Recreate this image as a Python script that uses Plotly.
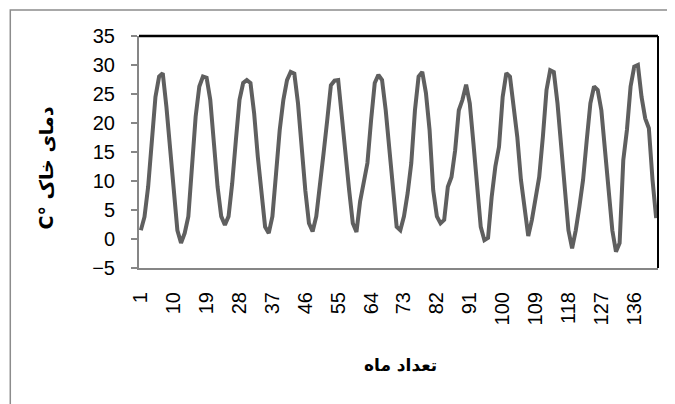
import plotly.graph_objects as go

# monthly soil temperature (deg C)
months = list(range(1, 143))
soil_temp = [
    1.5, 3.8, 9.0, 17.0, 24.5, 28.0, 28.6, 22.8, 15.9, 7.3, 1.5, -0.7,
    1.0, 3.9, 13.1, 21.1, 26.3, 28.0, 27.8, 24.0, 16.5, 9.0, 3.9, 2.4,
    3.9, 9.6, 17.0, 24.0, 26.9, 27.4, 26.9, 21.7, 14.2, 7.3, 2.1, 1.0,
    3.9, 11.3, 18.8, 24.0, 27.4, 28.8, 28.5, 23.4, 15.3, 8.4, 2.7, 1.3,
    3.9, 10.2, 14.8, 20.5, 26.5, 27.3, 27.4, 21.1, 14.2, 8.4, 2.7, 1.2,
    6.5, 10.2, 13.1, 20.5, 26.9, 28.3, 27.4, 22.2, 15.3, 7.3, 2.1, 1.5,
    3.9, 7.9, 13.1, 22.2, 28.0, 28.8, 25.2, 18.8, 8.4, 3.9, 2.7, 3.3,
    9.0, 10.7, 15.3, 22.2, 24.0, 26.6, 23.4, 16.5, 9.0, 2.1, -0.2, 0.2,
    7.3, 12.5, 15.9, 24.5, 28.6, 28.0, 22.8, 17.6, 10.2, 5.6, 0.5, 3.3,
    7.3, 10.7, 17.6, 25.7, 29.1, 28.8, 23.4, 15.9, 7.3, 1.5, -1.6, 1.5,
    5.6, 10.2, 17.0, 23.4, 26.3, 25.7, 22.2, 14.8, 7.3, 1.5, -2.2, -0.7,
    13.6, 18.8, 26.3, 29.7, 30.0, 24.5, 20.8, 19.1, 10.2, 3.6,
]
x_ticks = list(range(1, 137, 9))
y_ticks = list(range(-5, 36, 5))

y_title = "\u202bدمای خاک °C\u202c"
x_title = "تعداد ماه"

fig = go.Figure()
fig.add_trace(
    go.Scatter(
        x=months,
        y=soil_temp,
        mode="lines",
        line=dict(color="#5f5f5f", width=4),
        showlegend=False,
    )
)

# plot area: top and right border in black, axes in gray
fig.add_shape(type="line", xref="paper", yref="paper", x0=0, x1=1, y0=1, y1=1,
              line=dict(color="black", width=2.5))
fig.add_shape(type="line", xref="paper", yref="paper", x0=1, x1=1, y0=0, y1=1,
              line=dict(color="black", width=2))
# chart area frame
fig.add_shape(type="rect", xref="paper", yref="paper",
              x0=-0.248, x1=1.2, y0=-1.0, y1=1.112,
              line=dict(color="#8c8c8c", width=1.5))

fig.add_annotation(
    text=y_title, xref="paper", yref="paper", x=-0.179, y=0.429,
    xanchor="center", yanchor="middle",
    showarrow=False, textangle=-90,
    font=dict(family="DejaVu Sans", size=19, color="black", weight="bold"),
)
fig.add_annotation(
    text=x_title, xref="paper", yref="paper", x=0.503, y=-0.42,
    xanchor="center", yanchor="middle",
    showarrow=False,
    font=dict(family="DejaVu Sans", size=17, color="black", weight="bold"),
)

fig.update_xaxes(
    range=[0.5, len(months) + 0.5],
    tickmode="array", tickvals=x_ticks, ticktext=[str(v) for v in x_ticks],
    tickangle=-90, ticks="", showgrid=False, zeroline=False,
    showline=True, linecolor="#868686", linewidth=2,
    ticklabelstandoff=14,
    tickfont=dict(family="Liberation Sans, Arial", size=20, color="black"),
)
fig.update_yaxes(
    range=[-5, 35],
    tickmode="array", tickvals=y_ticks,
    ticks="outside", ticklen=6, tickcolor="#868686", tickwidth=1.5,
    showgrid=False, zeroline=False,
    showline=True, linecolor="#868686", linewidth=2,
    ticklabelstandoff=12,
    tickfont=dict(family="Liberation Sans, Arial", size=20, color="black"),
)

# the page adds an 8px body margin, so the figure is 8px smaller
fig.update_layout(
    width=667, height=396,
    margin=dict(l=131, r=17, t=28, b=136),
    paper_bgcolor="white", plot_bgcolor="white",
)

fig.write_html("out.html")
